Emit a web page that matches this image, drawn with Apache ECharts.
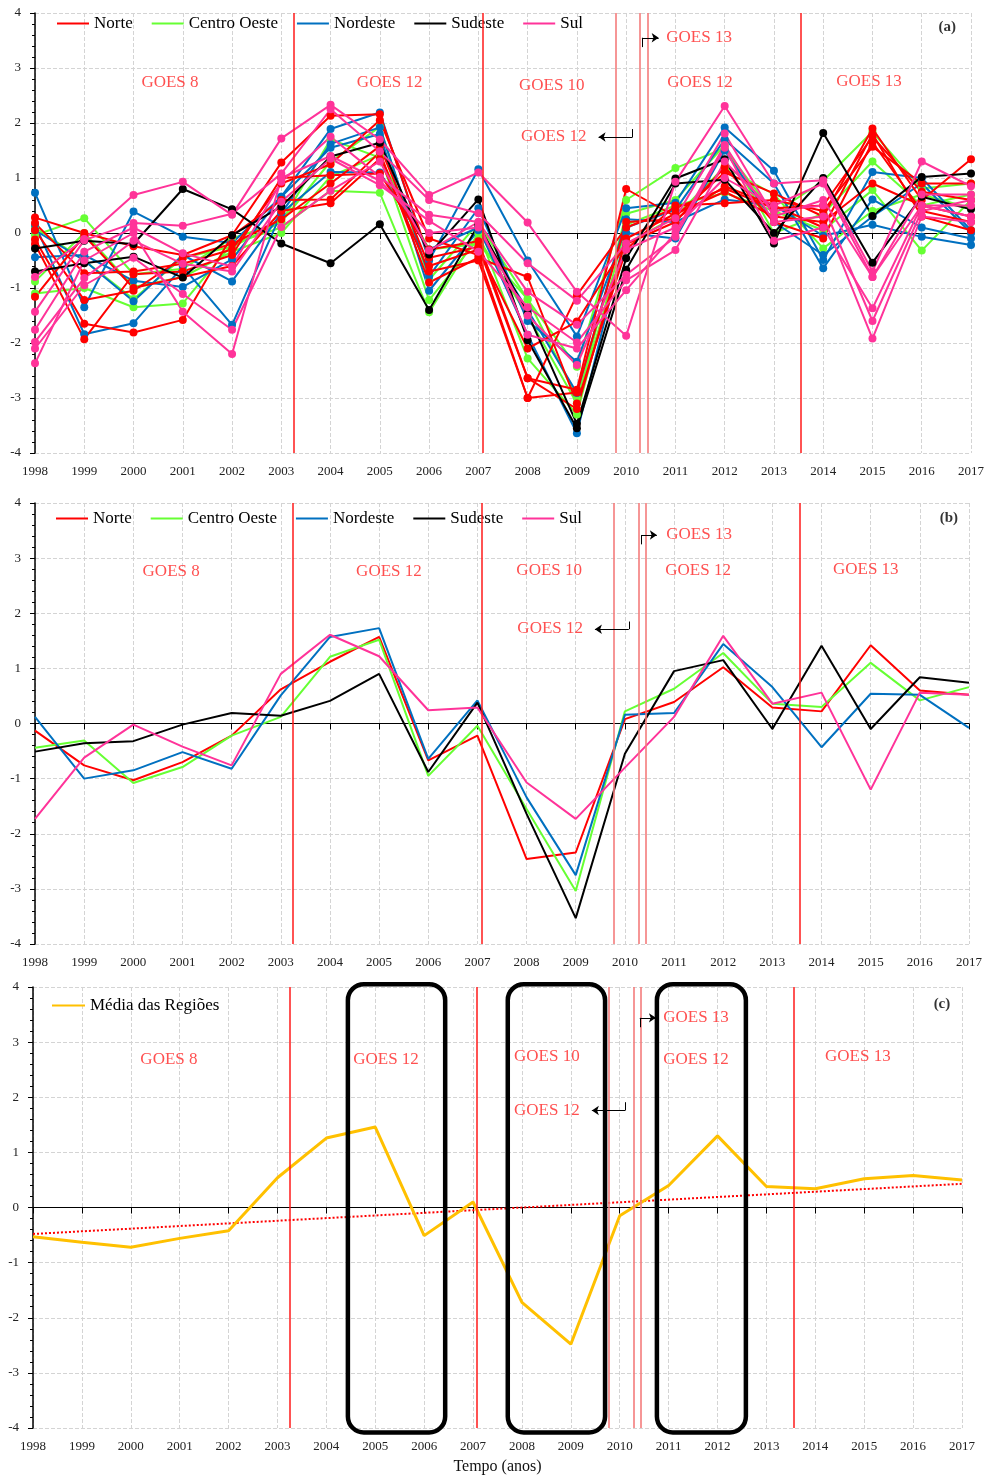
<!DOCTYPE html>
<html>
<head>
<meta charset="utf-8">
<script src="https://cdn.jsdelivr.net/npm/echarts@6/dist/echarts.min.js"></script>
<style>
html, body { margin: 0; padding: 0; background: #fff; }
#chart { width: 988px; height: 1477px; }
</style>
</head>
<body>
<div id="chart"></div>
<script>
const years = [1998,1999,2000,2001,2002,2003,2004,2005,2006,2007,2008,2009,2010,2011,2012,2013,2014,2015,2016,2017];

// (a) estações por região
const norte = [
  [0.28,0.0,-0.24,-0.4,-0.04,1.28,2.13,2.16,-0.45,-0.25,-2.64,-2.85,0.8,0.3,1.1,0.72,0.3,1.9,0.6,1.34],
  [0.18,-0.73,-0.7,-0.56,-0.3,0.9,1.25,2.05,-0.1,-0.4,-3.0,-1.13,0.1,0.45,0.81,0.45,0.5,1.75,0.75,0.6],
  [0.05,-1.22,-1.05,-0.45,-0.2,0.25,0.9,1.58,-0.6,-0.3,-2.1,-1.61,-0.2,0.2,1.2,0.2,-0.1,1.65,0.4,0.2],
  [-0.12,-1.65,-1.81,-1.58,-0.05,0.6,0.61,1.47,-0.9,-0.45,-0.8,-3.1,-0.3,0.5,0.54,0.6,0.4,1.57,0.9,0.9],
  [-0.2,-1.93,-0.75,-0.7,-0.4,1.0,1.05,1.08,-0.3,-0.15,-2.64,-3.2,-0.1,0.35,0.75,0.3,0.2,0.9,0.5,0.3],
  [-1.16,-0.05,-1.0,-0.8,-0.6,0.4,0.54,1.35,-0.7,-0.5,-3.0,-2.9,0.2,0.25,0.85,0.5,0.1,1.8,0.3,0.05]
];
const centroOeste = [
  [-0.04,0.27,-0.75,-0.65,-0.1,0.2,1.3,1.93,-0.85,0.18,-1.21,-2.43,0.6,1.18,1.54,0.35,0.95,1.84,0.81,0.9],
  [-0.88,0.0,-0.98,-0.8,-0.34,0.0,1.03,1.42,-1.22,-0.1,-1.5,-3.1,0.35,0.6,1.6,0.0,0.35,1.3,0.5,0.7],
  [-1.1,-1.0,-1.35,-1.28,-0.2,0.1,0.77,0.73,-1.44,0.0,-2.28,-3.3,0.15,0.5,0.73,0.4,0.05,0.78,-0.32,0.6],
  [0.1,-0.5,-1.2,-0.45,-0.25,0.2,1.7,1.37,-0.3,-0.2,-1.2,-3.0,-0.2,0.3,1.2,0.7,-0.28,0.4,0.7,0.45]
];
const nordeste = [
  [0.73,-1.35,0.39,-0.07,-0.18,0.66,1.89,2.19,-0.5,1.16,-0.5,-1.88,0.45,0.55,1.92,1.13,-0.49,1.11,1.0,0.05],
  [0.15,-1.84,-1.64,-0.61,-1.67,0.36,1.62,1.92,-0.79,0.45,-1.6,-2.34,0.1,0.42,1.7,0.9,-0.64,0.61,0.1,-0.1],
  [-0.44,-0.4,-0.87,-0.98,-0.48,0.66,1.55,1.8,-1.05,0.05,-1.4,-2.91,0.25,0.2,0.61,0.5,-0.05,0.15,-0.07,-0.22],
  [0.05,-0.5,-1.24,-0.4,-0.88,0.36,1.11,1.1,-0.3,0.1,-1.85,-3.64,0.0,-0.1,1.5,0.2,-0.4,0.3,0.9,0.0]
];
const sudeste = [
  [-0.28,-0.14,-0.2,0.8,0.43,-0.19,-0.55,0.16,-1.4,0.15,-1.46,-3.47,-0.46,0.99,1.34,-0.19,1.82,0.31,1.02,1.08],
  [-0.7,-0.55,-0.43,-0.81,-0.04,0.48,1.39,1.64,-0.39,0.61,-1.95,-3.55,-0.67,0.9,0.97,0.0,1.0,-0.54,0.66,0.43]
];
const sul = [
  [-0.8,-0.11,0.69,0.93,0.33,1.72,2.33,1.7,0.69,1.1,0.19,-1.07,-1.87,0.93,2.31,0.9,0.96,-0.7,1.3,0.85],
  [-1.43,-0.13,0.18,0.13,0.35,1.08,2.25,1.48,0.6,0.36,-0.55,-1.23,-0.19,0.27,1.81,0.3,0.6,-0.8,0.7,0.7],
  [-1.76,-0.34,0.1,-0.37,-0.61,0.93,1.75,1.02,0.33,0.2,-1.07,-1.67,-0.76,-0.07,1.55,-0.14,0.1,-1.37,0.5,0.3],
  [-1.98,-0.82,-0.14,-0.56,-0.7,0.57,1.35,0.87,0.22,-0.34,-1.35,-1.99,-0.86,-0.31,1.3,0.4,0.5,-1.6,0.4,0.6],
  [-2.1,-0.95,-0.45,-1.11,-1.76,0.11,0.77,1.3,-0.32,0.2,-1.85,-2.1,-1.04,0.0,1.6,0.2,0.3,-1.92,0.3,0.2],
  [-2.37,-0.5,0.0,-1.43,-2.2,1.0,1.4,0.95,0.0,0.1,-1.5,-2.4,-0.3,0.1,1.0,0.5,0.9,-0.8,0.5,0.5]
];

// (b) médias regionais
const norteMedia = [-0.13,-0.76,-1.03,-0.70,-0.22,0.62,1.12,1.57,-0.67,-0.22,-2.46,-2.34,0.08,0.39,1.02,0.29,0.22,1.42,0.60,0.52];
const centroOesteMedia = [-0.44,-0.31,-1.08,-0.79,-0.22,0.12,1.21,1.52,-0.95,-0.04,-1.55,-3.04,0.22,0.63,1.28,0.36,0.30,1.10,0.42,0.66];
const nordesteMedia = [0.12,-1.0,-0.85,-0.52,-0.82,0.51,1.57,1.73,-0.64,0.42,-1.34,-2.75,0.16,0.19,1.44,0.66,-0.43,0.54,0.52,-0.08];
const sudesteMedia = [-0.51,-0.36,-0.32,-0.02,0.19,0.14,0.41,0.90,-0.88,0.38,-1.64,-3.53,-0.55,0.95,1.15,-0.10,1.41,-0.10,0.84,0.74];
const sulMedia = [-1.73,-0.62,-0.02,-0.42,-0.76,0.90,1.61,1.22,0.24,0.29,-1.07,-1.73,-0.80,0.12,1.59,0.36,0.56,-1.20,0.56,0.52];

// (c) média das regiões e tendência linear
const mediaRegioes = [-0.53,-0.63,-0.72,-0.56,-0.42,0.54,1.26,1.46,-0.51,0.10,-1.72,-2.48,-0.15,0.40,1.30,0.38,0.34,0.52,0.58,0.50];
const tendencia = [[1998,-0.48],[2017,0.43]];

// trocas de satélite (anos) e períodos destacados em (c)
const trocaSatelite = [2003.25, 2007.08, 2009.78, 2010.28, 2010.43, 2013.55];
const satelites = ['GOES 8','GOES 12','GOES 10','GOES 12','GOES 13','GOES 12','GOES 13'];
const destaques = [[2004.44, 2006.43], [2007.71, 2009.7], [2010.76, 2012.58]];

const fonte = 'Liberation Serif';
const cores = {norte:'#ff0000', centro:'#66ff33', nordeste:'#0070c0', sudeste:'#000000', sul:'#ff3399'};
const regioes = ['Norte','Centro Oeste','Nordeste','Sudeste','Sul'];

const paineis = [
  {top:13, left:35, right:17, height:440, legTop:15, legLeft:57, tag:'(a)',
   pos:[[2000.74,2.73],[2005.2,2.73],[2008.49,2.69],[2008.53,1.745],[2011.48,3.55],[2011.5,2.73],[2014.93,2.75]],
   tagPos:[2016.52,3.75],
   a12:{x0:2010.13, y0:1.89, y:1.745, x1:2009.44}, a13:{x:2010.32, y0:3.38, y1:3.55, x1:2010.66}},
  {top:503, left:35, right:19, height:441, legTop:510, legLeft:56, tag:'(b)',
   pos:[[2000.77,2.75],[2005.2,2.75],[2008.46,2.78],[2008.48,1.73],[2011.51,3.42],[2011.49,2.78],[2014.9,2.8]],
   tagPos:[2016.59,3.73],
   a12:{x0:2010.08, y0:1.85, y:1.71, x1:2009.39}, a13:{x:2010.33, y0:3.25, y1:3.42, x1:2010.65}},
  {top:987, left:33, right:26, height:441, legTop:997, legLeft:52, tag:'(c)',
   pos:[[2000.78,2.69],[2005.22,2.69],[2008.51,2.73],[2008.51,1.76],[2011.56,3.44],[2011.56,2.69],[2014.87,2.73]],
   tagPos:[2016.59,3.69],
   a12:{x0:2010.11, y0:1.91, y:1.76, x1:2009.43}, a13:{x:2010.41, y0:3.27, y1:3.44, x1:2010.74}}
];

const pares = arr => years.map((y, i) => [y, arr[i]]);

const grid = paineis.map(p => ({top:p.top, left:p.left, right:p.right, height:p.height}));

const xAxis = [];
paineis.forEach((p, i) => {
  xAxis.push({
    type:'value', gridIndex:i, min:1998, max:2017, interval:1, position:'top',
    axisLine:{onZero:true, lineStyle:{color:'#000', width:1}},
    axisTick:{show:true, inside:true, length:6, lineStyle:{color:'#000'}},
    axisLabel:{show:false},
    splitLine:{show:true, lineStyle:{color:'#d4d4d4', type:'dashed'}}
  });
  xAxis.push({
    type:'value', gridIndex:i, min:1998, max:2017, interval:1, position:'bottom',
    axisLine:{show:false, onZero:false}, axisTick:{show:false}, splitLine:{show:false},
    axisLabel:{margin:12, fontFamily:fonte, fontSize:13, color:'#222', formatter: v => String(v)},
    name: i === 2 ? 'Tempo (anos)' : '', nameLocation:'middle', nameGap:31,
    nameTextStyle:{fontFamily:fonte, fontSize:16, color:'#111'}
  });
});

const yAxis = paineis.map((p, i) => ({
  type:'value', gridIndex:i, min:-4, max:4, interval:1,
  axisLine:{show:true, onZero:false, lineStyle:{color:'#000', width:1.5}},
  axisTick:{show:true, length:5, lineStyle:{color:'#000'}},
  minorTick:{show:true, splitNumber:5, length:3, lineStyle:{color:'#000'}},
  axisLabel:{margin:14, fontFamily:fonte, fontSize:13, color:'#222'},
  splitLine:{show:true, lineStyle:{color:'#d4d4d4', type:'dashed'}}
}));

const series = [];

function estacoes(nome, cor, linhas) {
  linhas.forEach(l => series.push({
    name:nome, type:'line', xAxisIndex:0, yAxisIndex:0, data:pares(l),
    symbol:'circle', symbolSize:8, showSymbol:true,
    lineStyle:{width:2, color:cor}, itemStyle:{color:cor}, animation:false, silent:true
  }));
}
estacoes('Centro Oeste', cores.centro, centroOeste);
estacoes('Nordeste', cores.nordeste, nordeste);
estacoes('Norte', cores.norte, norte);
estacoes('Sudeste', cores.sudeste, sudeste);
estacoes('Sul', cores.sul, sul);

[['Norte', cores.norte, norteMedia], ['Centro Oeste', cores.centro, centroOesteMedia],
 ['Nordeste', cores.nordeste, nordesteMedia], ['Sudeste', cores.sudeste, sudesteMedia],
 ['Sul', cores.sul, sulMedia]].forEach(([nome, cor, d]) => series.push({
  name:nome, type:'line', xAxisIndex:2, yAxisIndex:1, data:pares(d), symbol:'none',
  lineStyle:{width:2, color:cor}, itemStyle:{color:cor}, animation:false, silent:true
}));

series.push({
  name:'Tendência', type:'line', xAxisIndex:4, yAxisIndex:2, data:tendencia, symbol:'none',
  lineStyle:{width:2, color:'#ff0000', type:'dotted'}, animation:false, silent:true
});
series.push({
  name:'Média das Regiões', type:'line', xAxisIndex:4, yAxisIndex:2, data:pares(mediaRegioes), symbol:'none',
  lineStyle:{width:3, color:'#ffc000'}, itemStyle:{color:'#ffc000'}, animation:false, silent:true
});

series.push({
  type:'custom', xAxisIndex:4, yAxisIndex:2, clip:false, z:10, silent:true, animation:false,
  data: destaques.map(d => [d[0], d[1], 4.05, -4.08]),
  encode:{x:[0,1], y:[2,3]},
  renderItem: (params, api) => {
    const a = api.coord([api.value(0), api.value(2)]);
    const b = api.coord([api.value(1), api.value(3)]);
    return {type:'rect', shape:{x:a[0], y:a[1], width:b[0]-a[0], height:b[1]-a[1], r:16},
            style:{fill:'none', stroke:'#000', lineWidth:4.5}};
  }
});

// linhas de troca de satélite (series própria) e setas
paineis.forEach((p, i) => {
  series.push({
    type:'line', xAxisIndex:2*i, yAxisIndex:i, data:[], silent:true, animation:false, z:3,
    markLine:{
      silent:true, animation:false, symbol:['none','none'], label:{show:false},
      lineStyle:{color:'#ff0000', width:1.5, type:'solid', opacity:1},
      data: trocaSatelite.map((t, k) => (k >= 2 && k <= 4)
        ? {xAxis:t, lineStyle:{color:'#f47c7c', width:1.6, type:'solid'}}
        : {xAxis:t, lineStyle:{color:'#ff1a1a', width:1.5, type:'solid'}})
    }
  });
  series.push({
    type:'line', xAxisIndex:2*i, yAxisIndex:i, data:[], silent:true, animation:false, z:4,
    markLine:{
      silent:true, animation:false, symbol:['none','none'], label:{show:false},
      lineStyle:{color:'#000', width:1, type:'solid'},
      data:[
        [{coord:[p.a12.x0, p.a12.y0]}, {coord:[p.a12.x0, p.a12.y]}],
        [{coord:[p.a12.x0, p.a12.y]}, {coord:[p.a12.x1, p.a12.y], symbol:'arrow', symbolSize:7}],
        [{coord:[p.a13.x, p.a13.y0]}, {coord:[p.a13.x, p.a13.y1]}],
        [{coord:[p.a13.x, p.a13.y1]}, {coord:[p.a13.x1, p.a13.y1], symbol:'arrow', symbolSize:7}]
      ]
    }
  });
  const dados = satelites.map((s, k) => ({name:s, value:p.pos[k]}));
  dados.push({name:p.tag, value:p.tagPos,
    label:{color:'#000', fontWeight:'bold', fontSize:15}});
  series.push({
    type:'scatter', xAxisIndex:2*i, yAxisIndex:i, symbolSize:0, data:dados, z:20, silent:true,
    animation:false,
    label:{show:true, position:[0,0], align:'center', verticalAlign:'middle', formatter:'{b}',
           fontFamily:fonte, fontSize:17, color:'#ff2424'}
  });
});

const legendaBase = {
  orient:'horizontal', icon:'rect', itemWidth:32, itemHeight:2, itemGap:19, padding:0,
  selectedMode:false, textStyle:{fontFamily:fonte, fontSize:17, color:'#000'}
};
const legend = [
  Object.assign({}, legendaBase, {top:paineis[0].legTop, left:paineis[0].legLeft, data:regioes}),
  Object.assign({}, legendaBase, {top:paineis[1].legTop, left:paineis[1].legLeft, data:regioes}),
  Object.assign({}, legendaBase, {top:paineis[2].legTop, left:paineis[2].legLeft, itemWidth:33, data:['Média das Regiões']})
];

const chart = echarts.init(document.getElementById('chart'));
chart.setOption({
  backgroundColor:'#fff',
  animation:false,
  grid, xAxis, yAxis, legend, series
});
</script>
</body>
</html>
